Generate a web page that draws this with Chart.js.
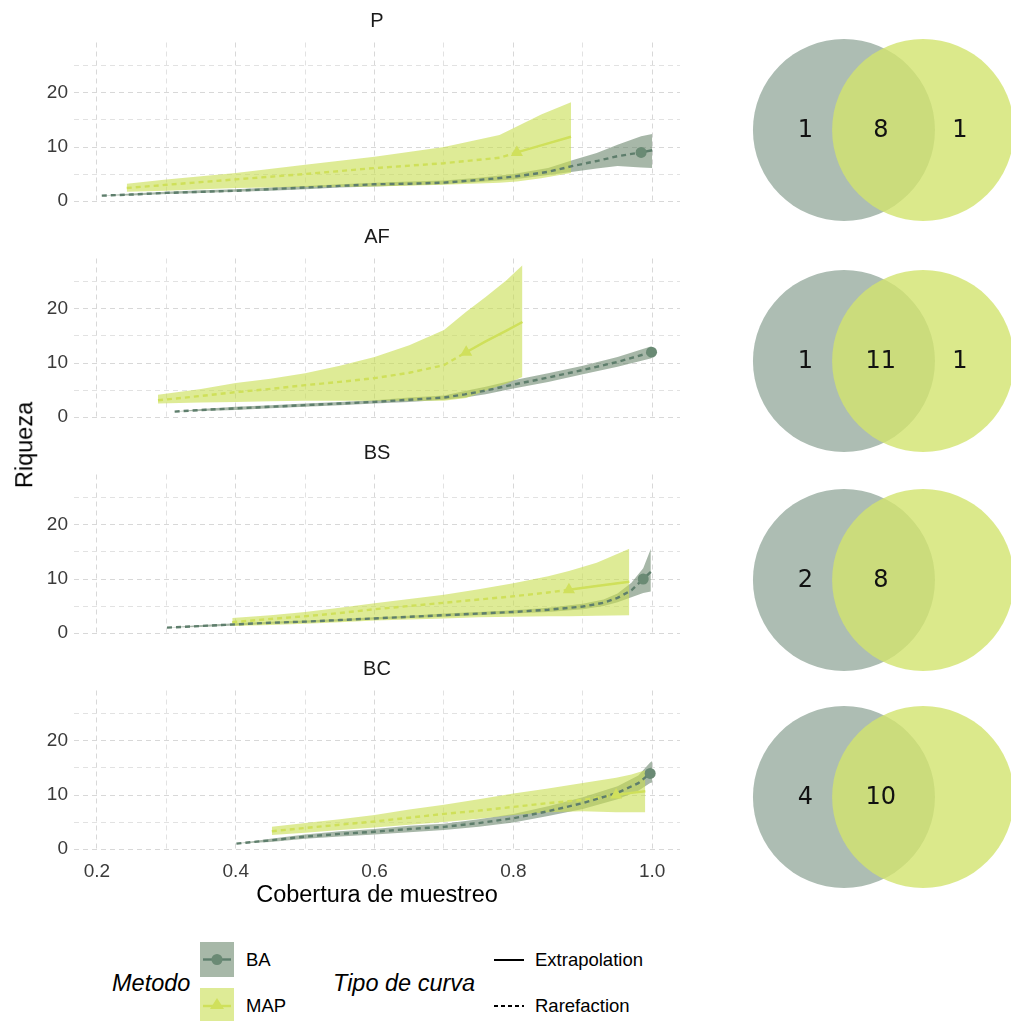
<!DOCTYPE html>
<html><head><meta charset="utf-8">
<script src="https://cdn.jsdelivr.net/npm/chart.js@4.4.1/dist/chart.umd.min.js"></script>
<style>
body{margin:0;background:#fff;}
#wrap{position:relative;width:1011px;height:1021px;overflow:hidden;font-family:"Liberation Sans",Arial,sans-serif;background:#fff;}
canvas{position:absolute;}
.t{position:absolute;white-space:nowrap;line-height:1;color:#000;}
</style></head><body><div id="wrap"></div>
<script>
// ---------------- DATA ----------------
const panels = ['P', 'AF', 'BS', 'BC'];
const xTicks = [0.2, 0.3, 0.4, 0.5, 0.6, 0.7, 0.8, 0.9, 1.0];
const xTickLabels = ['0.2', '', '0.4', '', '0.6', '', '0.8', '', '1.0'];
const yTicks = [0, 5, 10, 15, 20, 25];
const yTickLabels = ['0', '', '10', '', '20', ''];

// P
const pCovBA = [0.207,0.25,0.3,0.35,0.4,0.45,0.5,0.55,0.6,0.65,0.7,0.75,0.8,0.85,0.886,0.92,0.95,0.984,1.0];
const pRiqBA = [1.0,1.2,1.5,1.7,1.9,2.2,2.5,2.8,3.1,3.2,3.4,3.9,4.5,5.4,6.5,7.4,8.3,9.0,9.4];
const pLoBA  = [1.0,1.0,1.3,1.5,1.7,1.9,2.2,2.5,2.7,2.9,3.1,3.5,4.0,4.8,5.4,6.0,6.5,6.2,6.1];
const pHiBA  = [1.0,1.4,1.7,2.0,2.2,2.5,2.8,3.1,3.4,3.6,3.8,4.3,5.0,6.1,7.6,8.9,10.4,12.0,12.4];
const pObsBA = 17;
const pCovMAP = [0.243,0.3,0.4,0.5,0.6,0.7,0.78,0.805,0.84,0.883];
const pRiqMAP = [2.4,3.0,4.0,5.0,6.1,7.0,8.0,9.0,10.3,11.9];
const pLoMAP  = [1.7,1.9,2.4,2.6,2.7,3.0,3.4,3.6,4.2,5.2];
const pHiMAP  = [3.2,4.0,5.2,6.7,8.2,10.0,12.2,13.8,16.0,18.3];
const pObsMAP = 7;
// AF
const afCovBA = [0.312,0.35,0.4,0.45,0.5,0.55,0.6,0.65,0.7,0.73,0.76,0.8,0.85,0.9,0.95,0.999];
const afRiqBA = [1.0,1.3,1.6,1.9,2.2,2.5,2.8,3.2,3.6,4.2,4.9,6.0,7.3,8.7,10.2,12.0];
const afLoBA  = [1.0,1.1,1.3,1.6,1.9,2.2,2.5,2.8,3.2,3.6,4.2,5.3,6.5,7.9,9.3,10.9];
const afHiBA  = [1.0,1.5,1.9,2.2,2.5,2.8,3.1,3.6,4.0,4.8,5.6,6.8,8.1,9.5,11.1,13.1];
const afObsBA = 15;
const afCovMAP = [0.288,0.35,0.4,0.45,0.5,0.55,0.6,0.65,0.7,0.732,0.76,0.79,0.813];
const afRiqMAP = [3.1,3.9,4.6,5.2,5.9,6.5,7.2,8.2,9.6,12.0,14.0,16.0,17.6];
const afLoMAP  = [2.5,2.7,2.8,2.9,3.0,3.0,3.0,3.0,3.0,3.5,4.9,6.2,7.4];
const afHiMAP  = [4.1,5.2,6.3,7.1,8.1,9.5,11.1,13.3,16.1,19.5,22.2,25.3,28.1];
const afObsMAP = 9;
// BS
const bsCovBA = [0.301,0.35,0.4,0.45,0.5,0.55,0.6,0.65,0.7,0.75,0.8,0.85,0.9,0.93,0.95,0.97,0.987,0.998];
const bsRiqBA = [1.0,1.3,1.6,1.9,2.1,2.4,2.7,3.0,3.3,3.6,3.9,4.3,4.9,5.6,6.5,7.9,10.0,11.3];
const bsLoBA  = [1.0,1.1,1.4,1.7,1.9,2.2,2.5,2.8,3.0,3.3,3.6,3.9,4.4,5.0,5.7,6.6,7.4,7.7];
const bsHiBA  = [1.0,1.5,1.8,2.1,2.3,2.6,2.9,3.2,3.6,3.9,4.2,4.7,5.4,6.2,7.3,9.3,12.0,15.6];
const bsObsBA = 16;
const bsCovMAP = [0.395,0.45,0.5,0.55,0.6,0.65,0.7,0.75,0.8,0.85,0.88,0.92,0.967];
const bsRiqMAP = [2.0,2.6,3.1,3.7,4.4,5.0,5.6,6.2,6.8,7.5,8.0,8.7,9.5];
const bsLoMAP  = [1.3,1.5,1.7,2.0,2.3,2.5,2.7,2.9,3.0,3.1,3.1,3.2,3.3];
const bsHiMAP  = [2.8,3.3,3.9,4.7,5.5,6.3,7.1,8.1,9.2,10.5,11.5,13.0,15.6];
const bsObsMAP = 10;
// BC
const bcCovBA = [0.401,0.45,0.5,0.55,0.6,0.65,0.7,0.75,0.8,0.85,0.9,0.95,0.98,0.997,1.0];
const bcRiqBA = [1.0,1.6,2.3,2.8,3.2,3.7,4.1,4.8,5.7,7.0,8.5,10.4,12.2,14.0,14.2];
const bcLoBA  = [1.0,1.3,1.9,2.3,2.7,3.1,3.5,4.1,4.9,6.1,7.4,9.2,10.8,12.2,12.3];
const bcHiBA  = [1.0,1.9,2.7,3.3,3.7,4.3,4.7,5.5,6.5,7.9,9.6,11.6,13.6,16.0,16.3];
const bcObsBA = 13;
const bcCovMAP = [0.452,0.5,0.55,0.6,0.65,0.7,0.75,0.8,0.85,0.9,0.948,0.97,0.99];
const bcRiqMAP = [3.3,3.9,4.5,5.1,5.8,6.5,7.1,7.8,8.5,9.1,10.0,10.4,10.7];
const bcLoMAP  = [2.6,3.0,3.5,4.0,4.5,5.0,5.6,6.3,6.8,7.0,6.8,6.8,6.8];
const bcHiMAP  = [4.1,4.8,5.5,6.3,7.3,8.2,9.2,10.3,11.2,12.2,13.2,13.8,14.6];
const bcObsMAP = 10;

// Venn counts per panel
const vennBAonly  = [1, 1, 2, 4];
const vennShared  = [8, 11, 8, 10];
const vennMAPonly = [1, 1, 0, 0];

// ---------------- TABLE built from arrays ----------------
const series = {
  P:  {BA:{x:pCovBA, y:pRiqBA, lo:pLoBA, hi:pHiBA, obs:pObsBA}, MAP:{x:pCovMAP, y:pRiqMAP, lo:pLoMAP, hi:pHiMAP, obs:pObsMAP}},
  AF: {BA:{x:afCovBA, y:afRiqBA, lo:afLoBA, hi:afHiBA, obs:afObsBA}, MAP:{x:afCovMAP, y:afRiqMAP, lo:afLoMAP, hi:afHiMAP, obs:afObsMAP}},
  BS: {BA:{x:bsCovBA, y:bsRiqBA, lo:bsLoBA, hi:bsHiBA, obs:bsObsBA}, MAP:{x:bsCovMAP, y:bsRiqMAP, lo:bsLoMAP, hi:bsHiMAP, obs:bsObsMAP}},
  BC: {BA:{x:bcCovBA, y:bcRiqBA, lo:bcLoBA, hi:bcHiBA, obs:bcObsBA}, MAP:{x:bcCovMAP, y:bcRiqMAP, lo:bcLoMAP, hi:bcHiMAP, obs:bcObsMAP}}
};

// ---------------- STYLE ----------------
const SANS = '"Liberation Sans", Arial, sans-serif';
Chart.defaults.font.family = SANS;
const sty = {
  BA:  {ribbon:'rgba(108,135,110,0.6)', line:'#5e7e6c', point:'#6a8a74', pstyle:'circle', prad:5.5, rOrder:12},
  MAP: {ribbon:'rgba(200,222,80,0.6)',  line:'#cfe05a', point:'#d0e05c', pstyle:'triangle', prad:7, rOrder:11}
};
const wrap = document.getElementById('wrap');
const zip = (xs, ys) => xs.map((v, i) => ({x: v, y: ys[i]}));

const stripPlugin = {
  id: 'strip',
  afterDraw(c, args, opts) {
    const ctx = c.ctx, ca = c.chartArea;
    ctx.save();
    ctx.font = '20px ' + SANS;
    ctx.fillStyle = '#1a1a1a';
    ctx.textAlign = 'center';
    ctx.textBaseline = 'middle';
    ctx.fillText(opts.text, (ca.left + ca.right) / 2, ca.top - 21);
    ctx.restore();
  }
};

function zeroPad(s) { s.paddingTop = 0; s.paddingBottom = 0; s.paddingLeft = 0; s.paddingRight = 0; }

panels.forEach((name, i) => {
  const bottom = i === panels.length - 1;
  const H = bottom ? 280 : 216;
  const cv = document.createElement('canvas');
  cv.width = 690; cv.height = H;
  cv.style.left = '0px'; cv.style.top = (216 * i) + 'px';
  cv.style.width = '690px'; cv.style.height = H + 'px';
  wrap.appendChild(cv);
  const ds = [];
  ['BA', 'MAP'].forEach(m => {
    const s = series[name][m], st = sty[m];
    ds.push({data: zip(s.x, s.hi), fill: '+1', backgroundColor: st.ribbon, borderWidth: 0, pointRadius: 0, order: st.rOrder});
    ds.push({data: zip(s.x, s.lo), fill: false, borderWidth: 0, pointRadius: 0, order: st.rOrder});
  });
  ['BA', 'MAP'].forEach((m, k) => {
    const s = series[name][m], st = sty[m];
    ds.push({data: zip(s.x.slice(0, s.obs + 1), s.y.slice(0, s.obs + 1)), borderColor: st.line, borderWidth: 2.4,
             borderDash: [5, 4], pointRadius: 0, fill: false, order: 3 + k});
    if (s.x.length - s.obs > 1) {
      ds.push({data: zip(s.x.slice(s.obs), s.y.slice(s.obs)), borderColor: st.line, borderWidth: 2.4,
               pointRadius: 0, fill: false, order: 3 + k});
    }
    ds.push({data: [{x: s.x[s.obs], y: s.y[s.obs]}], showLine: false, pointStyle: st.pstyle, pointRadius: st.prad,
             backgroundColor: st.point, borderColor: st.point, borderWidth: 0, order: 1 + k});
  });
  new Chart(cv, {
    type: 'line',
    data: {datasets: ds},
    plugins: [stripPlugin],
    options: {
      responsive: false, animation: false, devicePixelRatio: 1, events: [],
      layout: {padding: {top: 42.5, right: 10, bottom: 0, left: 0}},
      plugins: {legend: {display: false}, tooltip: {enabled: false}, strip: {text: name}},
      scales: {
        x: {
          type: 'linear', min: 0.167, max: 1.04,
          afterBuildTicks: s => { s.ticks = xTicks.map(v => ({value: v})); },
          afterFit: s => { s.height = bottom ? 77.1 : 13.1; zeroPad(s); },
          grid: {color: c => (c.index % 2 === 0 ? '#d8d8d8' : '#e2e2e2'), lineWidth: 1, drawTicks: false},
          border: {display: false, dash: [5, 4]},
          ticks: {display: bottom, autoSkip: false, maxRotation: 0, padding: 9, color: '#3a3a3a',
                  font: {size: 19}, callback: (v) => xTickLabels[xTicks.indexOf(v)]},
          title: {display: bottom, text: 'Cobertura de muestreo', color: '#000', font: {size: 23.5},
                  padding: {top: 0, bottom: 18}}
        },
        y: {
          type: 'linear', min: -0.35, max: 29.35,
          afterBuildTicks: s => { s.ticks = yTicks.map(v => ({value: v})); },
          afterFit: s => { s.width = 74; zeroPad(s); },
          grid: {color: c => (c.index % 2 === 0 ? '#d8d8d8' : '#e2e2e2'), lineWidth: 1, drawTicks: false},
          border: {display: false, dash: [5, 4]},
          ticks: {autoSkip: false, padding: 6, color: '#3a3a3a', font: {size: 19},
                  callback: (v) => yTickLabels[yTicks.indexOf(v)]}
        }
      }
    }
  });
});

// ---------------- VENN ----------------
const vennCentersX = [-0.435, 0.435];
const vennLabelX = [-0.86, -0.03, 0.84];
const vennCenterPx = [130, 361, 580, 797];
const vennPlugin = {
  id: 'vennLabels',
  afterDatasetsDraw(c, args, opts) {
    const ctx = c.ctx, xs = c.scales.x, ys = c.scales.y;
    ctx.save();
    ctx.font = '24px "DejaVu Sans", sans-serif';
    ctx.fillStyle = '#111';
    ctx.textAlign = 'center';
    ctx.textBaseline = 'middle';
    opts.counts.forEach((n, k) => {
      if (n > 0) ctx.fillText(String(n), xs.getPixelForValue(vennLabelX[k]), ys.getPixelForValue(0) + 1);
    });
    ctx.restore();
  }
};
panels.forEach((name, i) => {
  const cv = document.createElement('canvas');
  cv.width = 291; cv.height = 216;
  cv.style.left = '720px'; cv.style.top = (vennCenterPx[i] - 108) + 'px';
  cv.style.width = '291px'; cv.style.height = '216px';
  wrap.appendChild(cv);
  const unitR = c => c.chart.scales.x.getPixelForValue(1) - c.chart.scales.x.getPixelForValue(0);
  new Chart(cv, {
    type: 'scatter',
    data: {datasets: [
      {data: [{x: vennCentersX[0], y: 0}], pointRadius: unitR, backgroundColor: '#adbdb3', borderWidth: 0, order: 2},
      {data: [{x: vennCentersX[1], y: 0}], pointRadius: unitR, backgroundColor: 'rgba(210,228,110,0.8)', borderWidth: 0, order: 1}
    ]},
    plugins: [vennPlugin],
    options: {
      responsive: false, animation: false, devicePixelRatio: 1, events: [],
      layout: {padding: 0},
      plugins: {legend: {display: false}, tooltip: {enabled: false},
                vennLabels: {counts: [vennBAonly[i], vennShared[i], vennMAPonly[i]]}},
      scales: {
        x: {type: 'linear', min: -1.797, max: 1.401, display: false},
        y: {type: 'linear', min: -1.187, max: 1.187, display: false}
      }
    }
  });
});
</script>
<script>
// ---------------- AXIS TITLE + LEGEND (HTML text) ----------------
(function(){
  const w = document.getElementById('wrap');
  const add = (html) => { w.insertAdjacentHTML('beforeend', html); };
  add('<div class="t" style="left:25px;top:445px;font-size:23.5px;transform:translate(-50%,-50%) rotate(-90deg);">Riqueza</div>');
  add('<div class="t" style="left:112px;top:972px;font-size:23.5px;font-style:italic;">Metodo</div>');
  add('<div class="t" style="left:333px;top:972px;font-size:23.5px;font-style:italic;">Tipo de curva</div>');
  add('<div style="position:absolute;left:200px;top:942px;width:34px;height:35px;background:#a7b8a8;"></div>');
  add('<svg style="position:absolute;left:200px;top:942px" width="34" height="35"><line x1="3" y1="17.5" x2="31" y2="17.5" stroke="#5e7e6c" stroke-width="2.4"/><circle cx="17" cy="17.5" r="5.5" fill="#6a8a74"/></svg>');
  add('<div style="position:absolute;left:200px;top:988px;width:34px;height:35px;background:#deeb96;"></div>');
  add('<svg style="position:absolute;left:200px;top:988px" width="34" height="35"><line x1="3" y1="18" x2="31" y2="18" stroke="#cfe05a" stroke-width="2.4"/><polygon points="17,10 24,21 10,21" fill="#d0e05c"/></svg>');
  add('<div class="t" style="left:246px;top:951px;font-size:18.5px;">BA</div>');
  add('<div class="t" style="left:246px;top:997px;font-size:18.5px;">MAP</div>');
  add('<svg style="position:absolute;left:492px;top:950px" width="34" height="20"><line x1="2" y1="10" x2="32" y2="10" stroke="#000" stroke-width="2"/></svg>');
  add('<svg style="position:absolute;left:492px;top:996px" width="34" height="20"><line x1="2" y1="10" x2="32" y2="10" stroke="#000" stroke-width="2" stroke-dasharray="4,3"/></svg>');
  add('<div class="t" style="left:535px;top:951px;font-size:18.5px;">Extrapolation</div>');
  add('<div class="t" style="left:535px;top:997px;font-size:18.5px;">Rarefaction</div>');
})();
</script>
</body></html>
